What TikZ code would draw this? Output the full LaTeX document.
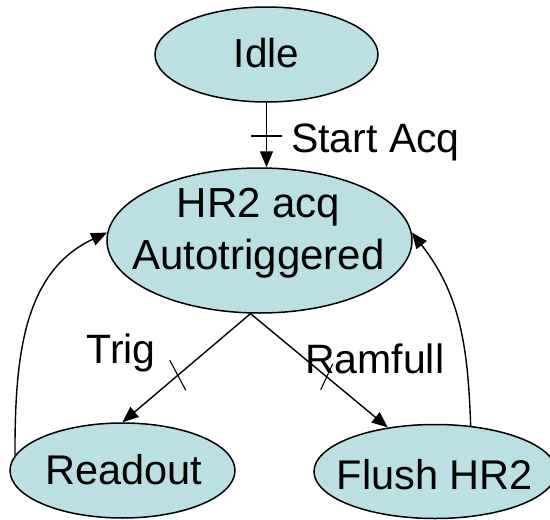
\documentclass[tikz,border=0pt]{standalone}
\usepackage{fontspec}
\setmainfont{Liberation Sans}
\usetikzlibrary{shapes.geometric,arrows.meta}
\definecolor{statefill}{RGB}{187,224,227}
\begin{document}
\begin{tikzpicture}[x=1pt,y=1pt,
  txt/.style={font=\fontsize{41.5}{52}\selectfont,inner sep=0pt,align=center},
  state/.style={ellipse,draw=black,line width=1.5pt,fill=statefill,inner sep=0pt},
  lbl/.style={font=\fontsize{41}{50}\selectfont,inner sep=0pt,anchor=base west},
  conn/.style={line width=1.4pt,-{Triangle[length=16pt,width=13pt]}},
  tick/.style={line width=1.1pt}]
\useasboundingbox (0,0) rectangle (550,-520);
\node[state,minimum width=223pt,minimum height=95pt,
  label={[txt,yshift=1.3pt,font=\fontsize{40.5}{50}\selectfont]center:Idle}] (idle) at (266.5,-54.5) {};
\node[state,minimum width=305pt,minimum height=145pt,
  label={[txt,xshift=-1pt,yshift=7pt,font=\fontsize{42}{52}\selectfont]center:HR2 acq\\Autotriggered}] (hr) at (259.5,-240.5) {};
\node[state,minimum width=225pt,minimum height=95pt,
  label={[txt,xshift=1pt,yshift=0.5pt]center:Readout}] (ro) at (122.5,-470.5) {};
\node[state,minimum width=242pt,minimum height=94pt,
  label={[txt,yshift=-3.5pt]center:Flush HR2}] (fl) at (435,-471.5) {};
% Idle -> HR2
\draw[conn] (idle.south) -- coordinate[pos=0.515] (t1) (hr.north -| idle.south);
\draw[tick] ([xshift=-15.5pt]t1) -- ([xshift=15.5pt]t1);
\node[lbl] (sa) at (291,-152) {Start Acq};
% HR2 -> Readout
\draw[conn] (hr.-97.5) -- coordinate[pos=0.568] (t2) (ro.north);
\draw[tick] ([shift={(-8pt,15pt)}]t2) -- ([shift={(8pt,-15pt)}]t2);
\node[lbl] (trig) at (86.5,-363) {Trig};
% HR2 -> Flush
\draw[conn] (hr.-97.5) -- coordinate[pos=0.555] (t3) (fl.137);
\draw[tick] ([shift={(6pt,13pt)}]t3) -- ([shift={(-6pt,-13pt)}]t3);
\node[lbl] (rf) at (305,-373) {Ramfull};
% returns
\draw[conn] (ro.172) to[out=90,in=205] (hr.177);
\draw[conn] (fl.52) to[out=92,in=-52] (hr.3);
\end{tikzpicture}
\end{document}
